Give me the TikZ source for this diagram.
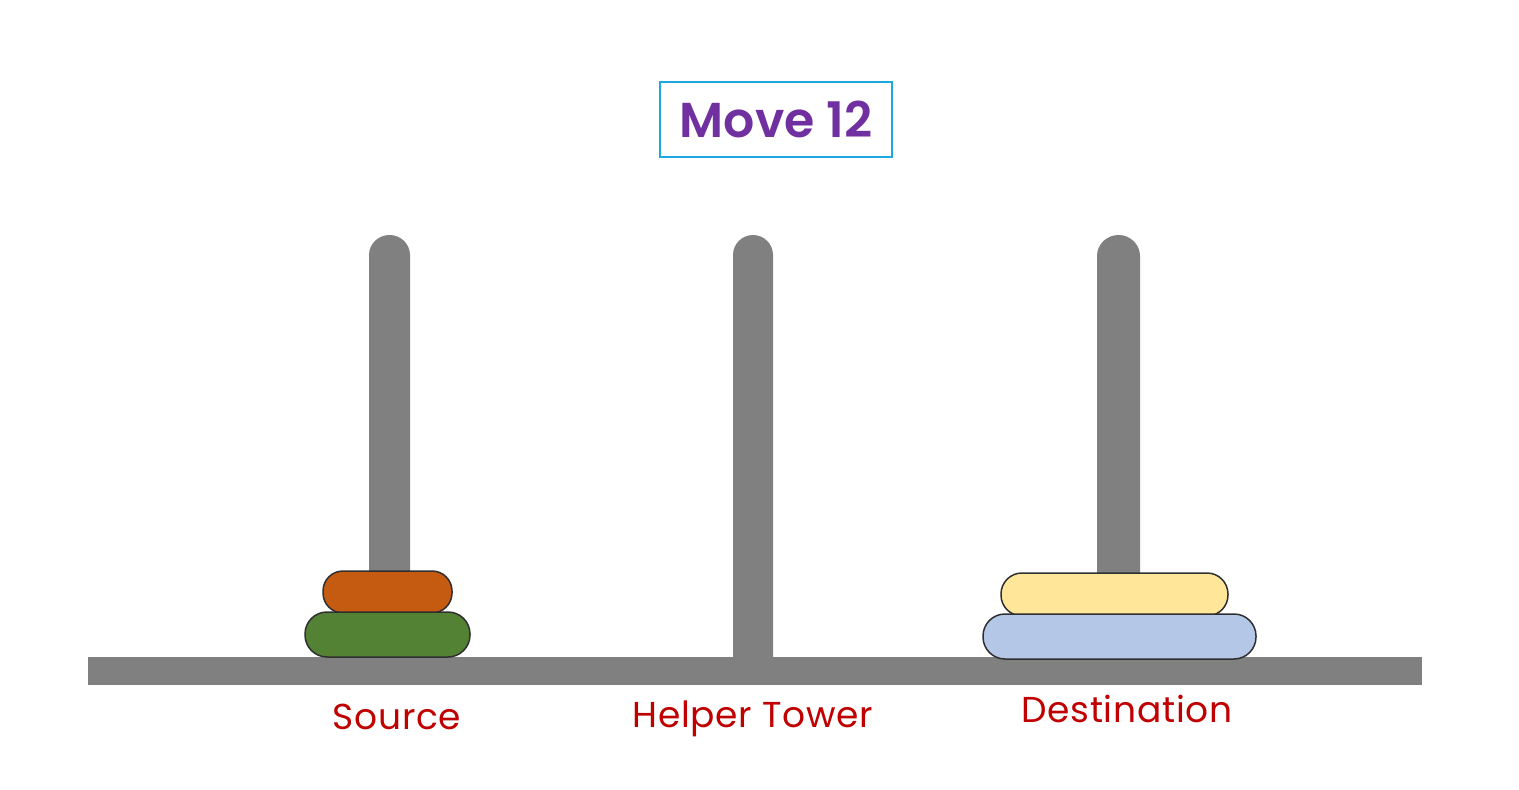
\documentclass[tikz,border=0pt]{standalone}
\usepackage{fontspec}
\newfontfamily\titlefont{Poppins}[BoldFont={* SemiBold}]
\newfontfamily\labelfont{Poppins}[LetterSpace=2]
\definecolor{pegc}{HTML}{808080}
\definecolor{orangec}{HTML}{C55A11}
\definecolor{greenc}{HTML}{548235}
\definecolor{yellowc}{HTML}{FFE699}
\definecolor{bluec}{HTML}{B4C7E7}
\definecolor{titlec}{HTML}{7030A0}
\definecolor{framec}{HTML}{1CA9E1}
\definecolor{labelc}{HTML}{C00000}
\definecolor{edgec}{HTML}{2F2F2F}
\tikzset{
  peg/.style={fill=pegc, draw=none},
  disk/.style={draw=edgec, line width=1.5pt},
  towerlabel/.style={text=labelc, font=\labelfont\fontsize{36}{42}\selectfont, anchor=base},
}
\begin{document}
\begin{tikzpicture}[x=1pt,y=-1pt]
\useasboundingbox (0,0) rectangle (1519,790);
% base
\fill[peg] (88,657) rectangle (1422,685);
% pegs
\fill[peg] (369,657) -- (369,255) arc[start angle=180,end angle=0,x radius=20.5,y radius=-20] -- (410,657) -- cycle;
\fill[peg] (733,657) -- (733,255) arc[start angle=180,end angle=0,x radius=20,y radius=-20] -- (773,657) -- cycle;
\fill[peg] (1097,657) -- (1097,256) arc[start angle=180,end angle=0,x radius=21.5,y radius=-21] -- (1140,657) -- cycle;
% source disks
\draw[disk, fill=orangec, rounded corners=20pt] (323,571) rectangle (452,613);
\draw[disk, fill=greenc, rounded corners=22pt] (305,612) rectangle (470,657);
% destination disks
\draw[disk, fill=yellowc, rounded corners=21pt] (1001,573) rectangle (1228,616);
\draw[disk, fill=bluec, rounded corners=22pt] (983,614) rectangle (1256,659);
% title
\node[draw=framec, line width=2pt, minimum width=232pt, minimum height=75pt, inner sep=0pt,
      text=titlec, font=\titlefont\bfseries\fontsize{49}{54}\selectfont] (title) at (776,119.5) {Move 12};
% labels
\node[towerlabel] (src) at (397,729) {Source};
\node[towerlabel] (hlp) at (753,727) {Helper Tower};
\node[towerlabel] (dst) at (1127,722) {Destination};
\end{tikzpicture}
\end{document}
